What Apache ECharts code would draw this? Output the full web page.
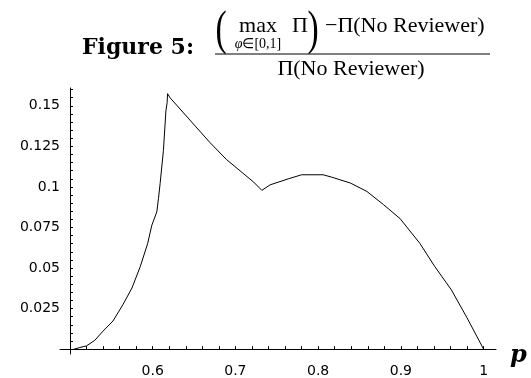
<!DOCTYPE html>
<html>
<head>
<meta charset="utf-8">
<script src="https://cdn.jsdelivr.net/npm/echarts@6/dist/echarts.min.js"></script>
<style>
  html, body { margin: 0; padding: 0; background: #fff; }
  #figure5 { width: 531px; height: 378px; }
</style>
</head>
<body>
<div id="figure5"></div>
<script>
// reviewer gain curve
const pValues = [
  0.505, 0.512, 0.52, 0.53, 0.54, 0.552, 0.564, 0.575, 0.585, 0.594,
  0.599, 0.605, 0.607, 0.609, 0.613, 0.616, 0.6175, 0.618, 0.621, 0.669,
  0.689, 0.722, 0.732, 0.742, 0.764, 0.78, 0.806, 0.816, 0.839, 0.859,
  0.879, 0.899, 0.923, 0.941, 0.961, 0.98, 1.0
];
const gainValues = [
  0, 0.001, 0.002, 0.0054, 0.0111, 0.0173, 0.0274, 0.0377, 0.0509, 0.0652,
  0.0764, 0.0846, 0.0928, 0.102, 0.1224, 0.1468, 0.152, 0.1575, 0.155, 0.1275,
  0.117, 0.103, 0.0979, 0.1013, 0.105, 0.1075, 0.1075, 0.1061, 0.1024, 0.0972,
  0.0891, 0.0805, 0.0652, 0.0509, 0.0366, 0.0193, 0
];
const xTickLabels = [0.6, 0.7, 0.8, 0.9, 1];
const yTickLabels = [0.025, 0.05, 0.075, 0.1, 0.125, 0.15];

// small ticks: every 0.02 on p, every 0.005 on the value axis
const xTicks = [];
for (let i = 26; i <= 50; i++) xTicks.push(i / 50);
const yTicks = [];
for (let i = 1; i <= 32; i++) yTicks.push(i / 200);

const chart = echarts.init(document.getElementById('figure5'));
const serif = 'Liberation Serif';
const tickFont = { fontFamily: 'DejaVu Sans', fontSize: 14, color: '#000' };

const option = {
  animation: false,
  backgroundColor: '#fff',
  grid: { left: 60, top: 88, width: 436, height: 268 },
  xAxis: {
    type: 'value',
    min: 0.488,
    max: 1.015,
    splitLine: { show: false },
    axisLine: { onZero: true, lineStyle: { color: '#000', width: 1 } },
    axisTick: { inside: true, length: 3, customValues: xTicks, lineStyle: { color: '#000' } },
    axisLabel: Object.assign({
      margin: 10,
      customValues: xTickLabels,
      formatter: function (v) { return v === 1 ? '1' : v.toFixed(1); }
    }, tickFont),
    name: 'p',
    nameLocation: 'end',
    nameGap: 14,
    nameTextStyle: {
      fontFamily: 'DejaVu Serif', fontStyle: 'italic', fontWeight: 'bold',
      fontSize: 24, color: '#000', verticalAlign: 'top', lineHeight: 14
    }
  },
  yAxis: {
    type: 'value',
    min: -0.003,
    max: 0.161,
    offset: -10, // put the axis at p = 0.5
    splitLine: { show: false },
    axisLine: { show: true, lineStyle: { color: '#000', width: 1 } },
    axisTick: { inside: true, length: 3, customValues: yTicks, lineStyle: { color: '#000' } },
    axisLabel: Object.assign({
      margin: 10,
      customValues: yTickLabels,
      formatter: function (v) { return String(v); }
    }, tickFont)
  },
  graphic: [
    { type: 'text', x: 82, y: 48, style: { text: 'Figure 5:', fontFamily: 'DejaVu Serif', fontWeight: 'bold', fontSize: 22, fill: '#000', verticalAlign: 'middle' } },
    { type: 'text', x: 221, y: 31, scaleX: 0.7, style: { text: '(', fontFamily: serif, fontSize: 48, fill: '#000', align: 'center', verticalAlign: 'middle' } },
    { type: 'text', x: 258, y: 26, style: { text: 'max', fontFamily: serif, fontSize: 22, fill: '#000', align: 'center', verticalAlign: 'middle' } },
    {
      type: 'text', x: 258, y: 44,
      style: {
        text: '{i|φ}∈[0,1]', fontFamily: serif, fontSize: 14, fill: '#000', align: 'center', verticalAlign: 'middle',
        rich: { i: { fontFamily: serif, fontStyle: 'italic', fontSize: 14, fill: '#000' } }
      }
    },
    { type: 'text', x: 300, y: 26, style: { text: 'Π', fontFamily: serif, fontSize: 22, fill: '#000', align: 'center', verticalAlign: 'middle' } },
    { type: 'text', x: 313, y: 31, scaleX: 0.7, style: { text: ')', fontFamily: serif, fontSize: 48, fill: '#000', align: 'center', verticalAlign: 'middle' } },
    { type: 'text', x: 325, y: 26, style: { text: '−Π(No Reviewer)', fontFamily: serif, fontSize: 22, fill: '#000', verticalAlign: 'middle' } },
    { type: 'line', shape: { x1: 215, y1: 54, x2: 490, y2: 54 }, style: { stroke: '#000', lineWidth: 1 } },
    { type: 'text', x: 351, y: 69, style: { text: 'Π(No Reviewer)', fontFamily: serif, fontSize: 22, fill: '#000', align: 'center', verticalAlign: 'middle' } }
  ],
  series: [
    {
      type: 'line',
      data: pValues.map(function (p, i) { return [p, gainValues[i]]; }),
      showSymbol: false,
      silent: true,
      lineStyle: { color: '#000', width: 1 }
    }
  ]
};
chart.setOption(option);
</script>
</body>
</html>
